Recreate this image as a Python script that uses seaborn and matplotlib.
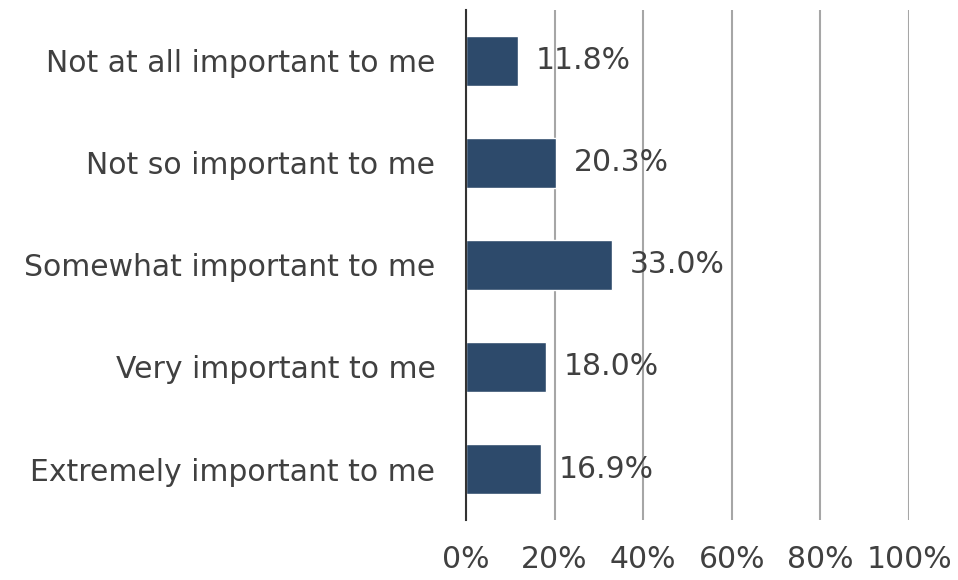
import pandas as pd
import numpy as np
import matplotlib
matplotlib.use("Agg")
import matplotlib.pyplot as plt
import seaborn as sns

# data
categories = ["Not at all important to me", "Not so important to me",
              "Somewhat important to me", "Very important to me",
              "Extremely important to me"]
shares = [11.8, 20.3, 33.0, 18.0, 16.9]
tick_vals = [0, 20, 40, 60, 80, 100]
tick_labels = ["0%", "20%", "40%", "60%", "80%", "100%"]

df = pd.DataFrame({"category": categories, "share": shares})

sns.set_style("white")
plt.rcParams['font.family'] = ['DejaVu Sans']

fig = plt.figure(figsize=(9.58, 5.80), dpi=100)
ax = fig.add_axes([0.4864, 0.1034, 0.9489 - 0.4864, 0.983 - 0.1034])

sns.barplot(data=df, x="share", y="category", color="#2D4A6B",
            saturation=1, width=0.49, ax=ax, zorder=2)

ax.set_xlim(0, 100)
ax.set_ylim(4.5, -0.5)
ax.set_xticks(tick_vals)
ax.set_xticklabels(tick_labels)
ax.xaxis.grid(True, color="#A6A6A6", linewidth=1.5, zorder=0)
ax.set_axisbelow(True)
ax.set_xlabel("")
ax.set_ylabel("")

for s in ["top", "right", "bottom"]:
    ax.spines[s].set_visible(False)
ax.spines["left"].set_color("#333333")
ax.spines["left"].set_linewidth(1.5)

ax.tick_params(axis="x", length=0, pad=18, labelsize=21.5, labelcolor="#404040")
ax.tick_params(axis="y", length=0, pad=22, labelsize=21.5, labelcolor="#404040")

for i, v in enumerate(shares):
    ax.text(v + 4, i, f"{v:.1f}%", va="center", ha="left",
            fontsize=21.5, color="#404040", zorder=3)

fig.savefig("out.png", dpi=100)
